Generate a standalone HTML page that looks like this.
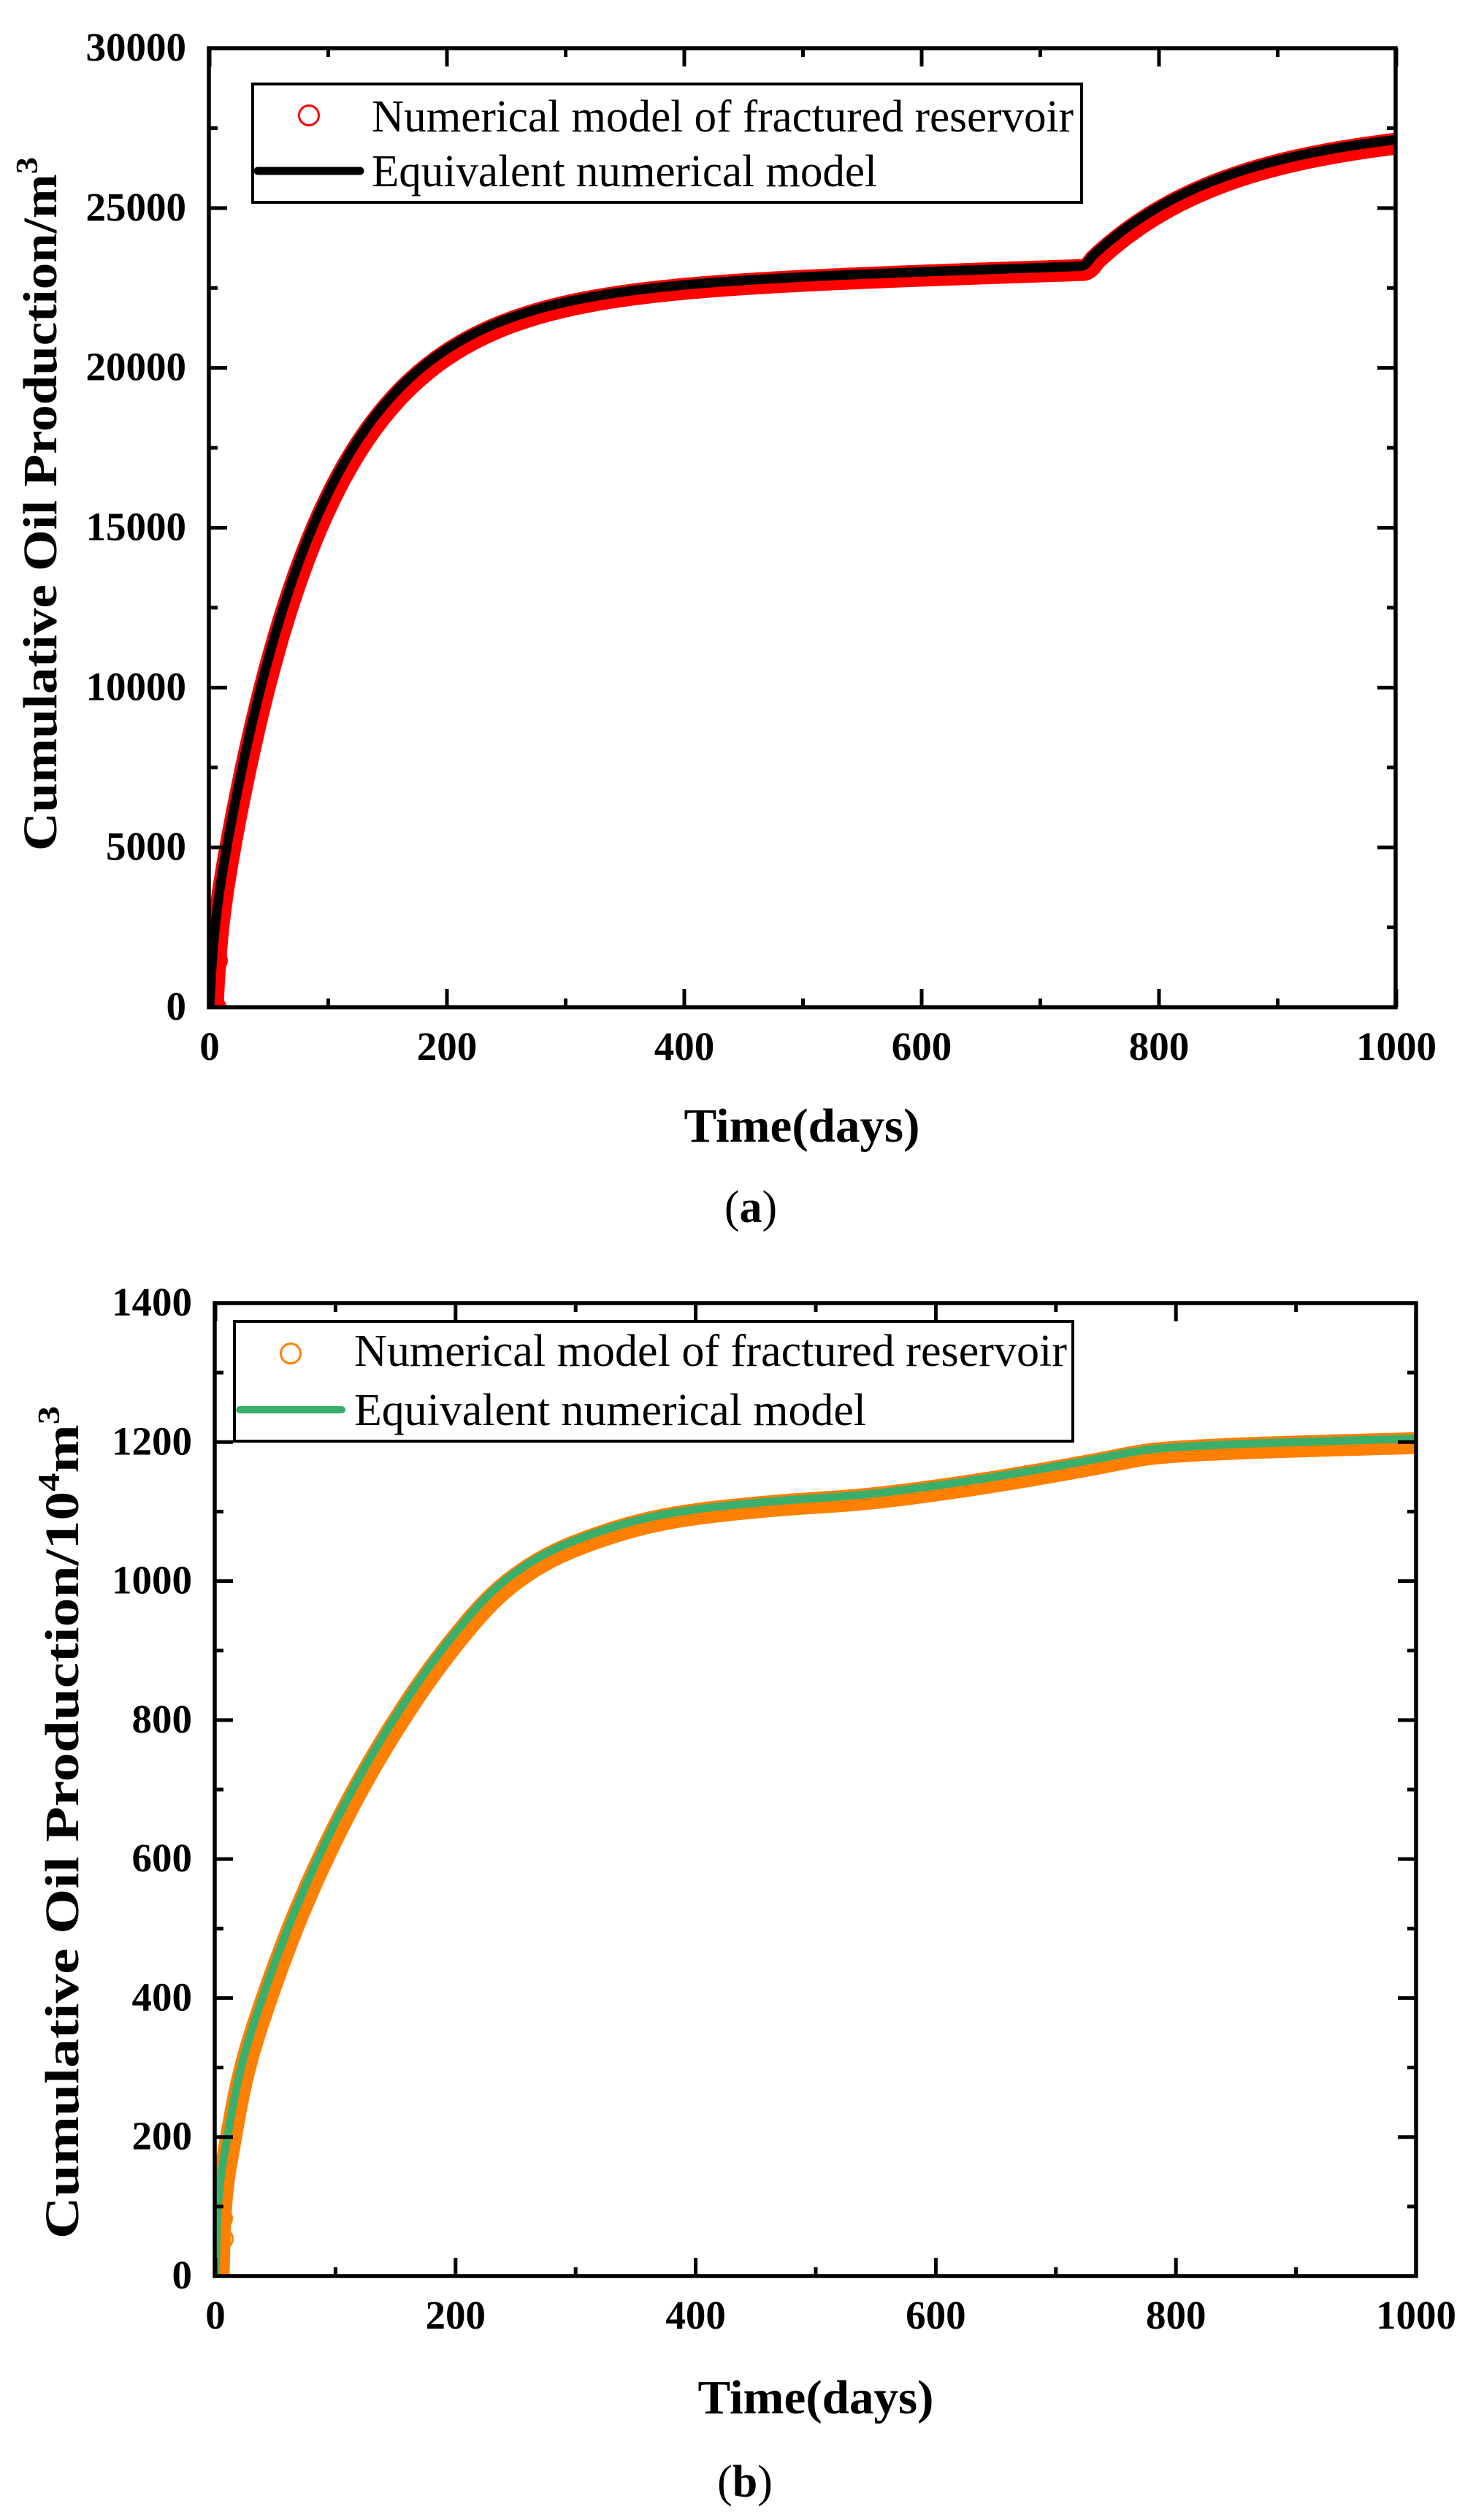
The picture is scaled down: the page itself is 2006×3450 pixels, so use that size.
<!DOCTYPE html>
<html><head><meta charset="utf-8"><style>
html,body{margin:0;padding:0;background:#fff;}
svg{display:block;}
text{font-family:"Liberation Serif",serif;}
.tk{font-size:55px;font-weight:bold;}
</style></head><body>
<svg id="s" width="2006" height="3450" viewBox="0 0 2006 3450" xmlns="http://www.w3.org/2000/svg">
<rect width="2006" height="3450" fill="#fff"/>
<g id="ga"></g>
<g id="gb"></g>
<text x="1098" y="1563" text-anchor="middle" font-size="66" font-weight="bold" textLength="323" lengthAdjust="spacingAndGlyphs">Time(days)</text>
<text x="1028" y="1673" text-anchor="middle" font-size="62">(<tspan font-weight="bold">a</tspan>)</text>
<text transform="translate(77,690) rotate(-90)" text-anchor="middle" font-size="66" font-weight="bold" textLength="950" lengthAdjust="spacingAndGlyphs">Cumulative Oil Production/m<tspan font-size="42" dy="-26">3</tspan></text>
<rect x="346" y="115" width="1135" height="162" fill="#fff" stroke="#000" stroke-width="4"/>
<circle cx="423" cy="158" r="13.5" fill="none" stroke="#ff0000" stroke-width="3"/>
<line x1="353" y1="234" x2="493" y2="234" stroke="#000" stroke-width="11" stroke-linecap="round"/>
<text x="509" y="180" font-size="62" textLength="961" lengthAdjust="spacingAndGlyphs">Numerical model of fractured reservoir</text>
<text x="509" y="255" font-size="62" textLength="692" lengthAdjust="spacingAndGlyphs">Equivalent numerical model</text>
<text x="1117" y="3304" text-anchor="middle" font-size="66" font-weight="bold" textLength="323" lengthAdjust="spacingAndGlyphs">Time(days)</text>
<text x="1020" y="3418" text-anchor="middle" font-size="62">(<tspan font-weight="bold">b</tspan>)</text>
<text transform="translate(107,2495) rotate(-90)" text-anchor="middle" font-size="66" font-weight="bold" textLength="1140" lengthAdjust="spacingAndGlyphs">Cumulative Oil Production/10<tspan font-size="42" dy="-26">4</tspan><tspan dy="26">m</tspan><tspan font-size="42" dy="-26">3</tspan></text>
<rect x="321" y="1809" width="1148" height="164" fill="#fff" stroke="#000" stroke-width="4"/>
<circle cx="398" cy="1853" r="13.5" fill="none" stroke="#ff7f00" stroke-width="3"/>
<line x1="328" y1="1930" x2="468" y2="1930" stroke="#3aaf6b" stroke-width="10" stroke-linecap="round"/>
<text x="485" y="1870" font-size="62" textLength="976" lengthAdjust="spacingAndGlyphs">Numerical model of fractured reservoir</text>
<text x="485" y="1951" font-size="62" textLength="701" lengthAdjust="spacingAndGlyphs">Equivalent numerical model</text>
</svg>
<script>
var NS="http://www.w3.org/2000/svg";
function el(p,n,a){var e=document.createElementNS(NS,n);for(var k in a)e.setAttribute(k,a[k]);p.appendChild(e);return e;}
function mono(data){
  var n=data.length,x=data.map(function(p){return p[0];}),y=data.map(function(p){return p[1];});
  var d=[],m=[];
  for(var i=0;i<n-1;i++)d.push((y[i+1]-y[i])/(x[i+1]-x[i]));
  m[0]=d[0];m[n-1]=d[n-2];
  for(i=1;i<n-1;i++){ if(d[i-1]*d[i]<=0)m[i]=0; else { var w1=2*(x[i+1]-x[i])+(x[i]-x[i-1]),w2=(x[i+1]-x[i])+2*(x[i]-x[i-1]); m[i]=(w1+w2)/(w1/d[i-1]+w2/d[i]); } }
  return function(t){
    var k=0;while(k<n-2&&t>x[k+1])k++;
    var h=x[k+1]-x[k],s=(t-x[k])/h,s2=s*s,s3=s2*s;
    return (2*s3-3*s2+1)*y[k]+(s3-2*s2+s)*h*m[k]+(-2*s3+3*s2)*y[k+1]+(s3-s2)*h*m[k+1];
  };
}
function smooth(f,w){
  return function(t){
    var ww=Math.min(w,t*0.3),s=0,n=0;
    if(ww<0.5)return f(t);
    for(var i=-10;i<=10;i++){s+=f(t+ww*i/10);n++;}
    return s/n;
  };
}
function plot(g,cfg){
  var X=function(t){return cfg.x0+t*cfg.px;};
  var Y=function(v){return cfg.yb-(v/cfg.ymax)*(cfg.yb-cfg.yt);};
  var f=cfg.f,ts=[];
  for(var t=0;t<2;t+=0.1)ts.push(t);
  for(t=2;t<20;t+=0.5)ts.push(t);
  for(t=20;t<=1000;t+=2)ts.push(t);
  var pts=ts.map(function(t){return [X(t),Y(f(t))];});
  function d(dx,dy){return "M"+pts.map(function(p){return (p[0]+dx).toFixed(1)+","+(p[1]+dy).toFixed(1);}).join("L");}
  var clip=el(g,"clipPath",{id:cfg.id});
  el(clip,"rect",{x:cfg.xl,y:cfg.yt,width:cfg.xr-cfg.xl,height:cfg.yb-cfg.yt});
  var cg=el(g,"g",{"clip-path":"url(#"+cfg.id+")"});
  el(cg,"path",{d:d(cfg.dx,cfg.dy),fill:"none",stroke:cfg.mc,"stroke-width":cfg.bw,"stroke-linejoin":"round","stroke-linecap":"round"});
  cfg.circles.forEach(function(c){el(cg,"circle",{cx:c[0],cy:c[1],r:13.5,fill:"none",stroke:cfg.mc,"stroke-width":3});});
  el(cg,"path",{d:d(0,0),fill:"none",stroke:cfg.lc,"stroke-width":cfg.lw,"stroke-linejoin":"round"});
  el(g,"rect",{x:cfg.xl,y:cfg.yt,width:cfg.xr-cfg.xl,height:cfg.yb-cfg.yt,fill:"none",stroke:"#000","stroke-width":5.5});
  for(t=0;t<=1000;t+=100){
    var x=X(t),L=(t%200==0)?25:12;
    el(g,"line",{x1:x,y1:cfg.yb,x2:x,y2:cfg.yb-L,stroke:"#000","stroke-width":5});
    el(g,"line",{x1:x,y1:cfg.yt,x2:x,y2:cfg.yt+L,stroke:"#000","stroke-width":5});
    if(t%200==0){var tx=el(g,"text",{x:x,y:cfg.yb+72,"text-anchor":"middle","class":"tk"});tx.textContent=t;}
  }
  for(var v=0;v<=cfg.ymax;v+=cfg.ystep/2){
    var y=Y(v),maj=(Math.round(v/cfg.ystep*2)%2==0);L=maj?25:12;
    el(g,"line",{x1:cfg.xl,y1:y,x2:cfg.xl+L,y2:y,stroke:"#000","stroke-width":5});
    el(g,"line",{x1:cfg.xr,y1:y,x2:cfg.xr-L,y2:y,stroke:"#000","stroke-width":5});
    if(maj){var ty=el(g,"text",{x:cfg.xl-31,y:y+17,"text-anchor":"end","class":"tk"});ty.textContent=v;}
  }
}
function fa(t){
  var v=1800*(1-Math.exp(-t/3))+20500*(1-Math.exp(-t/85))+1.2*t;
  if(t>735){var u=t-735;v+=4000*(1-Math.exp(-u/110))*Math.min(1,u/12+0.3);}
  return v;
}
plot(document.getElementById("ga"),{id:"ca",x0:287,px:1.625,xl:286,xr:1911,yt:66,yb:1379,ymax:30000,ystep:5000,
 mc:"#ff0000",lc:"#000",bw:30,lw:13,dx:4,dy:5,f:fa,
 circles:[[297,1315],[296,1282],[295,1379]]});
var fb=smooth(mono([[0,0],[2,100],[10,200],[21,300],[39,400],[60,500],[85,600],[114,700],[148,800],[188,900],[240,1000],[290,1052],[380,1098],[459,1114],[537,1124],[603,1138],[670,1156],[735,1176],[780,1190],[850,1197],[920,1201],[1000,1205]]),14);
plot(document.getElementById("gb"),{id:"cb",x0:295,px:1.644,xl:294,xr:1939,yt:1784,yb:3116,ymax:1400,ystep:200,
 mc:"#ff7f00",lc:"#3aaf6b",bw:30,lw:11,dx:4,dy:6,f:fb,
 circles:[[305,3065],[304,3037],[303,3017],[302,3003],[300,3116]]});
</script>
</body></html>
